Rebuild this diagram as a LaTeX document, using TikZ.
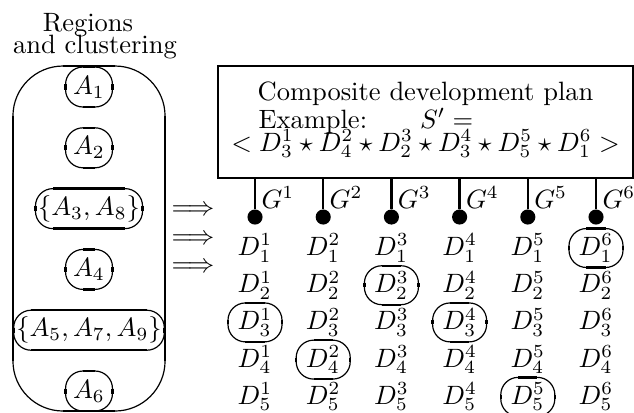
\documentclass[tikz,border=0pt]{standalone}

\newcommand{\flatsides}[2]{%
	\draw[flat] ([xshift=#2]#1.north west) -- ([xshift=-#2]#1.north east)
		([xshift=#2]#1.south west) -- ([xshift=-#2]#1.south east)
		([yshift=-#2]#1.north west) -- ([yshift=#2]#1.south west)
		([yshift=-#2]#1.north east) -- ([yshift=#2]#1.south east);}

\begin{document}
\begin{tikzpicture}[x=0.3774pt, y=-0.3774pt,
		region/.style={draw, line width=0.45pt, rounded corners=6.6pt, outer sep=0pt,
			inner xsep=1pt, inner ysep=0pt, minimum width=17.7pt, minimum height=15.1pt},
		choice/.style={region, minimum width=20.4pt, minimum height=14.7pt},
		flat/.style={line width=0.9pt},
		planbox/.style={draw, line width=0.9pt, outer sep=0pt, minimum width=156.6pt, minimum height=42.3pt},
		dot/.style={circle, fill, inner sep=0pt, minimum size=5.7pt},
		txt/.style={inner sep=0pt}]

	\useasboundingbox (0,0) rectangle (634,412);

	% Regions and clustering
	\node[txt, anchor=base] (regtitle) at (88,31) {Regions};
	\node[txt, anchor=base] (regsub) at (95,53) {and clustering};
	\node[region, rounded corners=18.9pt, minimum width=57.4pt, minimum height=130.2pt] (cluster) at (89,238.5) {};
	\flatsides{cluster}{18.9pt}
	\foreach \lbl [count=\k] in {{$A_1$}, {$A_2$}, {$\{A_3, A_8\}$}, {$A_4$}, {$\{A_5, A_7, A_9\}$}, {$A_6$}} {
		\node[region] (reg\k) at (89, {87+60.8*(\k-1)}) {\lbl};
		\flatsides{reg\k}{6.6pt}
	}

	% Implications
	\foreach \y [count=\k] in {211,240,268}
		\node[txt] (imp\k) at (193,\y) {$\Longrightarrow$};

	% Composite development plan
	\node[planbox] (plan) at (425.5,122) {};
	\node[txt, anchor=base] (plantitle) at (425.5,100) {Composite development plan};
	\node[txt, anchor=base west] (planex) at (258,128) {Example:\hspace{20pt}$S' =$};
	\node[txt, anchor=base] (planseq) at (425.5,151) {$< D_3^1 \star D_4^2 \star D_2^3 \star D_3^4 \star D_5^5 \star D_1^6 >$};

	% Goals and their development options
	\foreach \i/\pick in {1/3, 2/4, 3/2, 4/3, 5/5, 6/1} {
		\node[dot] (g\i) at ({255+68.2*(\i-1)}, 217) {};
		\draw[flat] (plan.south -| g\i) -- (g\i);
		\node[txt, anchor=base west] (glab\i) at ({261+68.2*(\i-1)}, 208) {$G^{\i}$};
		\foreach \j in {1,...,5} {
			\ifnum\j=\pick\relax \tikzset{dsel/.style={choice}}\else \tikzset{dsel/.style={txt}}\fi
			\node[dsel] (d\i\j) at ({255+68.2*(\i-1)}, {248+37.2*(\j-1)}) {$D_{\j}^{\i}$};
		}
		\flatsides{d\i\pick}{6.6pt}
	}
\end{tikzpicture}
\end{document}
